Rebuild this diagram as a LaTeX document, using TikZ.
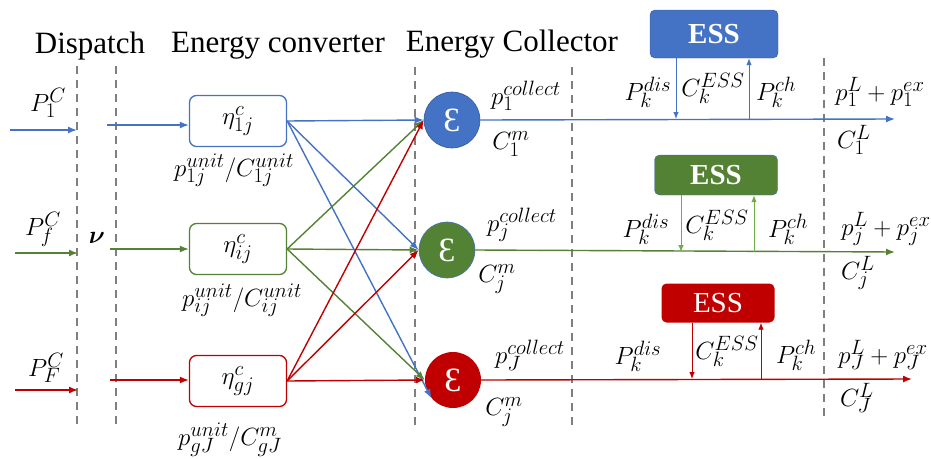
\documentclass[tikz,border=0pt]{standalone}
\usepackage{fontspec}
\setmainfont{Liberation Serif}
\usepackage{bm}
\usetikzlibrary{arrows.meta}
\DeclareMathSizes{25}{25}{20.5}{16}
\DeclareMathSizes{29}{29}{22}{17}
\definecolor{eblue}{HTML}{4472C4}
\definecolor{egreen}{HTML}{548235}
\definecolor{lgreen}{HTML}{70AD47}
\definecolor{ered}{HTML}{C00000}
\definecolor{sepgray}{HTML}{7F7F7F}

\begin{document}
\begin{tikzpicture}[x=1pt, y=-1pt,
    conv/.style={draw, rounded corners=7pt, line width=1.3pt, minimum width=97pt, minimum height=51pt, fill=white, font=\fontsize{29}{32}\selectfont},
    coll/.style={circle, minimum size=56pt, inner sep=0pt, text=white, font=\fontsize{34}{36}\selectfont},
    ess/.style={rounded corners=5pt, text=white, inner sep=0pt, font=\fontsize{29}{32}\selectfont},
    sep/.style={draw=sepgray, line width=1.8pt, dash pattern=on 8pt off 6pt},
    flow/.style={line width=1.4pt, -{Latex[length=9pt, width=7pt]}},
    tap/.style={line width=0.9pt, -{Latex[length=7pt, width=5.5pt]}},
    lbl/.style={font=\fontsize{25}{28}\selectfont, inner sep=0pt},
    ttl/.style={font=\fontsize{31}{36}\selectfont, inner sep=0pt}]

    \useasboundingbox (0,0) rectangle (931,458);

    % 区切り線
    \draw[sep] (77,66) -- (77,425);
    \draw[sep] (116,66) -- (116,425);
    \draw[sep] (415,67) -- (415,427);
    \draw[sep] (572,67) -- (572,427);
    \draw[sep] (824,58) -- (824,418);

    % 見出し
    \node[ttl] (tdisp) at (90,46) {Dispatch};
    \node[ttl] (tconv) at (278,46) {Energy converter};
    \node[ttl] (tcoll) at (512,44) {Energy Collector};

    % 変換器
    \node[conv, draw=eblue] (c1) at (238,121) {$\eta^c_{1j}$};
    \node[conv, draw=egreen] (cf) at (238,249) {$\eta^c_{ij}$};
    \node[conv, draw=ered] (cF) at (238,381) {$\eta^c_{gj}$};

    % 集電器
    \node[coll, fill=eblue, draw=eblue!80!black, line width=0.6pt] (e1) at (452,120) {Ɛ};
    \node[coll, fill=egreen, draw=eblue, line width=0.6pt] (ef) at (447,250) {Ɛ};
    \node[coll, fill=ered] (eF) at (453,380) {Ɛ};

    % 蓄電装置
    \node[ess, fill=eblue, draw=eblue!80!black, minimum width=128pt, minimum height=48pt] (s1) at (714,34) {\textbf{ESS}};
    \node[ess, fill=egreen, draw=eblue, minimum width=123pt, minimum height=40pt] (sf) at (716,175) {\textbf{ESS}};
    \node[ess, fill=ered, minimum width=113pt, minimum height=39pt] (sF) at (718,303) {ESS};

    % 端点
    \coordinate (in1) at (10,130);  \coordinate (d1) at (77,130);  \coordinate (v1) at (107,125);
    \coordinate (inf) at (15,253);  \coordinate (df) at (78,253);  \coordinate (vf) at (110,249);
    \coordinate (inF) at (15,390);  \coordinate (dF) at (78,390);  \coordinate (vF) at (110,380);
    \coordinate (o1) at (895,119);
    \coordinate (of) at (895,252);
    \coordinate (oF) at (912,379);
    \coordinate (dis1) at (676,119); \coordinate (ch1) at (749,119);
    \coordinate (disf) at (681,252); \coordinate (chf) at (754,252);
    \coordinate (disF) at (692,379); \coordinate (chF) at (761,379);

    % 入力
    \draw[flow, eblue] (in1) -- (d1);
    \draw[flow, egreen] (inf) -- (df);
    \draw[flow, ered] (inF) -- (dF);
    \draw[flow, eblue] (v1) -- (v1 -| c1.west);
    \draw[flow, egreen] (vf) -- (vf -| cf.west);
    \draw[flow, ered] (vF) -- (vF -| cF.west);

    % 変換器から集電器へ
    \draw[flow, eblue] (c1.east) -- (e1.west);
    \draw[flow, eblue] (c1.east) -- (ef.west);
    \draw[flow, eblue] (c1.east) -- (eF.220);
    \draw[flow, egreen] (cf.east) -- (e1.west);
    \draw[flow, egreen] (cf.east) -- (ef.west);
    \draw[flow, egreen] (cf.east) -- (eF.west);
    \draw[flow, ered] (cF.east) -- (e1.west);
    \draw[flow, ered] (cF.east) -- (ef.west);
    \draw[flow, ered] (cF.east) -- (eF.west);

    % 出力
    \draw[flow, eblue] (e1.east) -- (o1);
    \draw[flow, egreen] (ef.east) -- (of);
    \draw[flow, ered] (eF.east) -- (oF);

    % 充放電
    \draw[tap, eblue] (s1.south -| dis1) -- (dis1);
    \draw[tap, eblue] (ch1) -- (ch1 |- s1.south);
    \draw[tap, lgreen] (sf.south -| disf) -- (disf);
    \draw[tap, lgreen] (chf) -- (chf |- sf.south);
    \draw[tap, ered] (sF.south -| disF) -- (disF);
    \draw[tap, ered] (chF) -- (chF |- sF.south);

    % ラベル
    \node[lbl] (pin1) at (48,103) {$P_1^C$};
    \node[lbl] (pinf) at (43,229) {$P_f^C$};
    \node[lbl] (pinF) at (46,368) {$P_F^C$};
    \node[lbl] (nu) at (97,238) {$\bm{\nu}$};

    \node[lbl] (u1) at (234,170) {$p_{1j}^{unit}/C_{1j}^{unit}$};
    \node[lbl] (uf) at (242,300) {$p_{ij}^{unit}/C_{ij}^{unit}$};
    \node[lbl] (uF) at (230,440) {$p_{gJ}^{unit}/C_{gJ}^{m}$};

    \node[lbl] (pc1) at (526,96) {$p_1^{collect}$};
    \node[lbl] (cm1) at (511,144) {$C_1^m$};
    \node[lbl] (pcf) at (522,225) {$p_j^{collect}$};
    \node[lbl] (cmf) at (497,279) {$C_j^m$};
    \node[lbl] (pcF) at (530,355) {$p_J^{collect}$};
    \node[lbl] (cmF) at (504,412) {$C_j^m$};

    \node[lbl] (pd1) at (648,92) {$P_k^{dis}$};
    \node[lbl] (ce1) at (713,88) {$C_k^{ESS}$};
    \node[lbl] (pch1) at (776,92) {$P_k^{ch}$};
    \node[lbl] (pl1) at (880,92) {$p_1^L+p_1^{ex}$};
    \node[lbl] (cl1) at (854,140) {$C_1^L$};

    \node[lbl] (pdf) at (646,229) {$P_k^{dis}$};
    \node[lbl] (cef) at (717,225) {$C_k^{ESS}$};
    \node[lbl] (pchf) at (788,229) {$P_k^{ch}$};
    \node[lbl] (plf) at (886,229) {$p_j^L+p_j^{ex}$};
    \node[lbl] (clf) at (858,273) {$C_j^L$};

    \node[lbl] (pdF) at (638,356) {$P_k^{dis}$};
    \node[lbl] (ceF) at (727,351) {$C_k^{ESS}$};
    \node[lbl] (pchF) at (796,355) {$P_k^{ch}$};
    \node[lbl] (plF) at (883,355) {$p_J^L+p_J^{ex}$};
    \node[lbl] (clF) at (857,398) {$C_J^L$};

\end{tikzpicture}
\end{document}
